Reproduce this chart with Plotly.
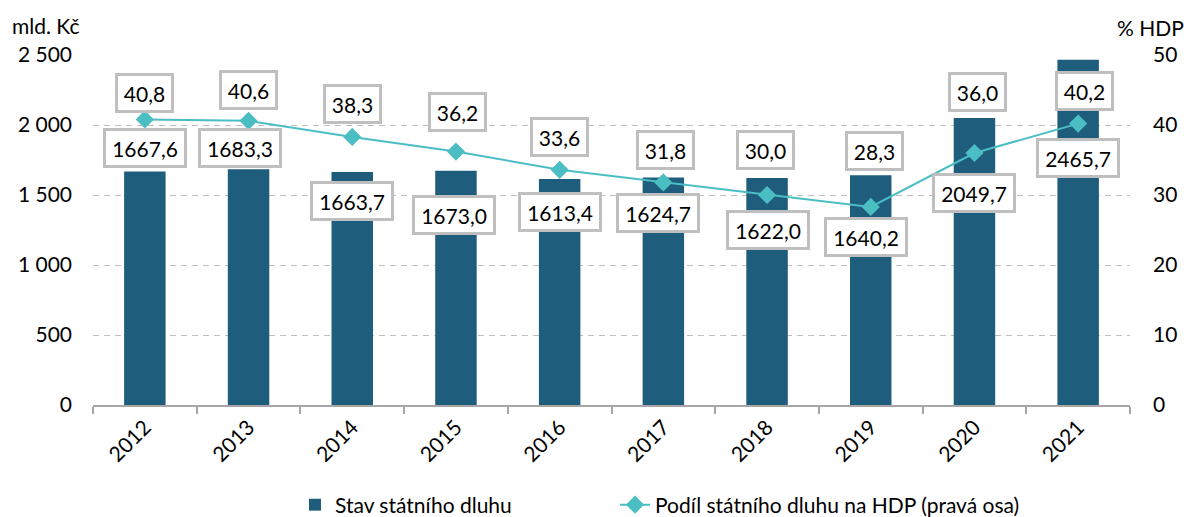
import plotly.graph_objects as go

years = ["2012", "2013", "2014", "2015", "2016", "2017", "2018", "2019", "2020", "2021"]
debt = [1667.6, 1683.3, 1663.7, 1673.0, 1613.4, 1624.7, 1622.0, 1640.2, 2049.7, 2465.7]
debt_gdp = [40.8, 40.6, 38.3, 36.2, 33.6, 31.8, 30.0, 28.3, 36.0, 40.2]
left_ticks = [0, 500, 1000, 1500, 2000, 2500]
left_tick_labels = ["0", "500", "1 000", "1 500", "2 000", "2 500"]
right_ticks = [0, 10, 20, 30, 40, 50]

# label offsets (pixels) relative to the data point
bar_lbl_dy = [24, 21, -29, -44, -33, -35, -52, -62, -75, -98]
bar_lbl_dx = [0, -9, 0, -2, 0, -5, 1, -5, 0, 0]
line_lbl_dy = [26, 31, 33, 40, 33, 32, 45, 56, 61, 33]
line_lbl_dx = [0, 0, 0, 2, 0, 2, -2, 4, 3, 6]

BAR = "#1F5D7D"
LINE = "#4BBEC4"
GRID = "#BFBFBF"
FONT = "Lato"
W, H = 1184, 517
L, R, T, B = 93, 54, 55, 112
PW, PH = W - L - R, H - T - B

fig = go.Figure()
fig.add_trace(go.Bar(x=years, y=debt, name="Stav státního dluhu",
                     marker=dict(color=BAR, line=dict(width=0)), legend="legend"))
fig.add_trace(go.Scatter(x=years, y=debt_gdp, name="Podíl státního dluhu na HDP (pravá osa)",
                         yaxis="y2", mode="lines+markers", legend="legend2",
                         line=dict(color=LINE, width=2),
                         marker=dict(symbol="diamond", size=14, color=LINE)))

def fmt(v):
    return f"{v:.1f}".replace(".", ",")

# annotations on a category axis are positioned by category index
for i, v in enumerate(debt):
    fig.add_annotation(x=i, y=v, xref="x", yref="y", text=fmt(v), showarrow=False,
                       xshift=bar_lbl_dx[i], yshift=bar_lbl_dy[i],
                       font=dict(family=FONT, size=21, color="#000"),
                       bgcolor="white", bordercolor=GRID, borderwidth=3, borderpad=3,
                       width=72, height=28)
for i, v in enumerate(debt_gdp):
    fig.add_annotation(x=i, y=v, xref="x", yref="y2", text=fmt(v), showarrow=False,
                       xshift=line_lbl_dx[i], yshift=line_lbl_dy[i],
                       font=dict(family=FONT, size=21, color="#000"),
                       bgcolor="white", bordercolor=GRID, borderwidth=3, borderpad=3,
                       width=47, height=28)

def px_x(x):
    return (x - L) / PW

def px_y(y):
    return (H - B - y) / PH

fig.add_annotation(text="mld. Kč", x=px_x(45), y=px_y(25), xanchor="center", yanchor="middle",
                   xref="paper", yref="paper", showarrow=False,
                   font=dict(family=FONT, size=21, color="#000"))
fig.add_annotation(text="% HDP", x=px_x(1150), y=px_y(28), xanchor="center", yanchor="middle",
                   xref="paper", yref="paper", showarrow=False,
                   font=dict(family=FONT, size=21, color="#000"))

legend_style = dict(orientation="h", xanchor="left", yanchor="middle",
                    font=dict(family=FONT, size=21, color="#000"),
                    bgcolor="rgba(0,0,0,0)", borderwidth=0)

fig.update_layout(
    width=W, height=H,
    template="none",
    paper_bgcolor="white", plot_bgcolor="white",
    margin=dict(l=L, r=R, t=T, b=B, autoexpand=False),
    font=dict(family=FONT, size=21, color="#000"),
    bargap=0.6,
    showlegend=True,
    legend=dict(x=px_x(295), y=px_y(505), **legend_style),
    legend2=dict(x=px_x(615), y=px_y(505), **legend_style),
    xaxis=dict(type="category", range=[-0.5, len(years) - 0.5], tickangle=-45,
               tickson="boundaries",
               ticks="outside", ticklen=7, tickcolor="#A6A6A6", tickwidth=1.5,
               showline=True, linecolor="#A6A6A6", linewidth=1.5,
               showgrid=False,
               tickfont=dict(family=FONT, size=21, color="#000")),
    yaxis=dict(range=[0, 2500], tickvals=left_ticks, ticktext=left_tick_labels,
               showgrid=True, gridcolor=GRID, gridwidth=1.3, griddash="6px,5px",
               zeroline=False, showline=False, ticks="", ticklabelstandoff=20,
               tickfont=dict(family=FONT, size=21, color="#000")),
    yaxis2=dict(range=[0, 50], tickvals=right_ticks, overlaying="y", side="right",
                showgrid=False, zeroline=False, showline=False, ticks="",
                ticklabelstandoff=22,
                tickfont=dict(family=FONT, size=21, color="#000")),
)

fig.write_html("out.html", config={"displayModeBar": False},
               post_script="document.body.style.margin='0';document.body.style.overflow='hidden';")
